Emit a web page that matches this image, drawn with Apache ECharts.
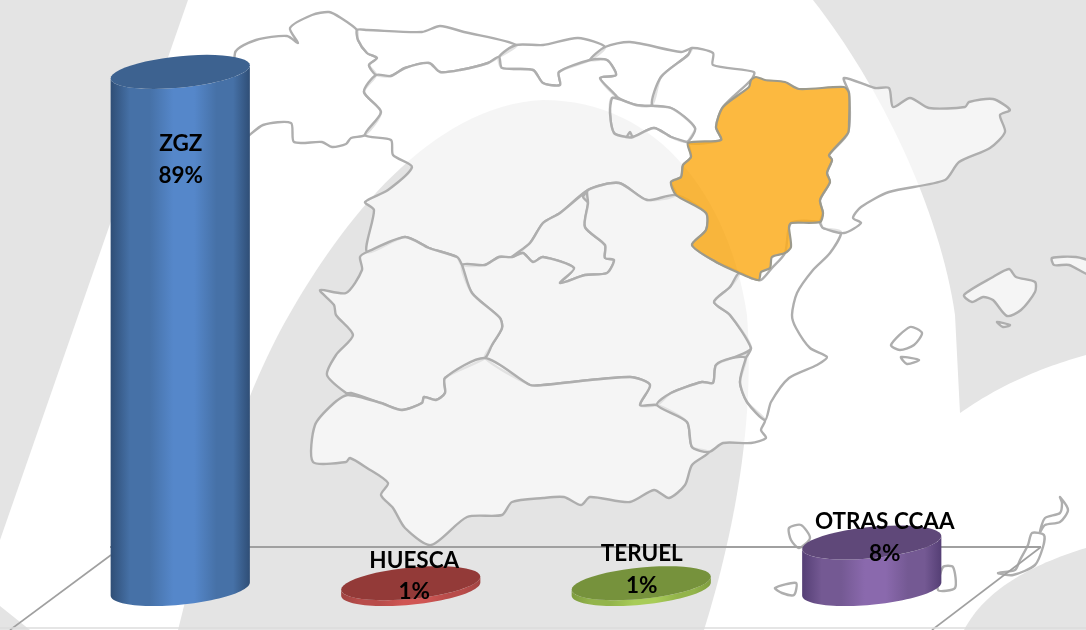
<!DOCTYPE html>
<html>
<head>
<meta charset="utf-8">
<title>Aragón</title>
<script src="https://cdn.jsdelivr.net/npm/echarts@6/dist/echarts.min.js"></script>
<style>
    html, body { margin: 0; padding: 0; background: #fff; overflow: hidden; }
    #chart { width: 1086px; height: 630px; filter: blur(0.7px); }
</style>
</head>
<body>
<div id="chart"></div>
<script>
const categories = ['ZGZ', 'HUESCA', 'TERUEL', 'OTRAS CCAA'];
const shares = [89, 1, 1, 8];

// colores: [tapa, borde oscuro, intermedio, centro claro]
const palette = [
    ['#3d6290', '#2f4e76', '#4671a7', '#5587ca'],
    ['#933a38', '#a04341', '#b84c4a', '#d05654'],
    ['#76923c', '#7e9c3f', '#93b44b', '#a8cc58'],
    ['#5f4879', '#553f75', '#745993', '#8a69ad']
];
// ajuste de las etiquetas respecto a la tapa: [dx, nombre, porcentaje]
const labelNudge = [
    [0.5, 72, 104],
    [3.5, -22, 9],
    [0.5, -29, 3],
    [13, -20.5, 11.5]
];

// fondo: comunidades autonomas (solo decoracion)
const regions = [
    [[235,53],[256,40],[287,36],[298,43],[290,28],[312,15],[329,12],[341,18],[357,30],[358,40],[367,53],[377,58],[369,65],[376,75],[364,92],[381,112],[365,135],[351,138],[346,144],[332,147],[322,142],[294,142],[291,123],[263,125],[240,140]],
    [[357,30],[367,30],[422,32],[440,26],[464,32],[516,45],[499,57],[488,63],[460,70],[440,72],[429,63],[405,68],[391,76],[376,75],[369,65],[377,58],[367,53],[358,40]],
    [[516,45],[543,45],[578,38],[605,47],[590,60],[559,72],[560,85],[543,83],[533,70],[502,68],[499,57]],
    [[605,47],[630,42],[681,52],[692,48],[688,55],[661,77],[652,105],[636,105],[617,97],[600,78],[616,75],[607,60],[590,60]],
    [[692,48],[713,53],[713,65],[754,72],[751,80],[723,107],[716,127],[721,140],[688,143],[695,128],[671,108],[652,105],[661,77],[688,55]],
    [[612,98],[636,105],[671,108],[695,128],[687,142],[671,137],[654,128],[633,137],[630,132],[626,137],[614,133],[610,113]],
    [[376,75],[391,76],[405,68],[429,63],[440,72],[460,70],[488,63],[499,57],[502,68],[533,70],[543,83],[560,85],[559,72],[590,60],[607,60],[616,75],[600,78],[617,97],[612,98],[610,113],[614,133],[626,137],[633,137],[654,128],[671,137],[687,142],[688,143],[691,157],[683,165],[681,177],[671,182],[676,195],[647,200],[619,183],[588,190],[560,213],[543,223],[530,243],[512,257],[499,257],[485,265],[462,265],[457,257],[429,248],[405,237],[367,252],[374,210],[365,202],[388,190],[412,167],[393,155],[391,140],[365,135],[381,112],[364,92]],
    [[588,190],[583,197],[588,203],[585,227],[605,245],[605,258],[614,260],[607,273],[585,275],[560,283],[574,268],[543,257],[533,262],[523,253],[512,257],[530,243],[543,223],[560,213]],
    [[462,265],[485,265],[499,257],[512,257],[523,253],[533,262],[543,257],[574,268],[560,283],[585,275],[607,273],[614,260],[605,258],[605,245],[585,227],[588,203],[588,190],[619,183],[647,200],[676,195],[706,213],[706,230],[692,245],[716,262],[739,273],[730,287],[714,302],[730,315],[751,348],[732,358],[716,365],[713,383],[702,382],[671,393],[657,405],[640,405],[650,385],[630,377],[543,385],[530,385],[485,358],[492,345],[502,328],[500,318],[472,293]],
    [[367,252],[405,237],[429,248],[457,257],[462,265],[472,293],[500,318],[502,328],[492,345],[485,358],[445,378],[445,393],[436,400],[424,397],[422,403],[402,410],[381,403],[351,393],[346,393],[327,375],[336,355],[353,335],[336,315],[334,305],[320,290],[346,293],[362,270],[360,257]],
    [[348,395],[381,403],[402,410],[422,403],[424,397],[436,400],[445,393],[445,378],[485,358],[530,385],[543,385],[630,377],[650,385],[640,405],[657,405],[687,422],[692,447],[709,452],[692,465],[685,485],[669,498],[654,490],[630,502],[590,497],[581,505],[564,497],[543,498],[512,502],[502,515],[467,517],[431,545],[405,528],[393,508],[381,495],[388,483],[367,468],[350,458],[346,462],[313,462],[315,425],[334,403]],
    [[657,405],[671,393],[702,382],[713,383],[716,365],[732,358],[746,358],[740,382],[747,402],[765,420],[761,430],[766,438],[751,443],[723,443],[709,452],[692,447],[687,422]],
    [[739,273],[751,278],[761,280],[772,268],[785,253],[791,223],[820,222],[823,228],[841,232],[830,253],[813,270],[797,293],[792,315],[796,328],[810,348],[827,357],[817,365],[789,378],[771,402],[765,420],[747,402],[740,382],[746,358],[751,348],[730,315],[714,302],[730,287]],
    [[844,78],[875,88],[889,88],[893,107],[910,98],[929,108],[965,107],[969,102],[993,99],[1010,110],[1000,115],[1005,132],[990,148],[959,162],[945,180],[889,192],[861,207],[853,218],[861,223],[844,233],[823,228],[820,222],[823,213],[820,200],[830,182],[827,173],[832,160],[829,155],[848,133],[849,93]],
    [[964,295],[993,277],[1009,269],[1016,277],[1035,282],[1035,292],[1021,310],[1007,316],[993,300],[983,297],[972,302]],
    [[1052,258],[1076,257],[1090,262],[1090,275],[1069,265],[1054,265]],
    [[891,345],[910,327],[922,333],[914,345],[900,350]],
    [[901,357],[919,360],[907,364]],
    [[997,322],[1010,325],[1003,327]],
    [[1060,497],[1068,510],[1060,522],[1045,525],[1040,532],[1045,518],[1060,513],[1062,503]],
    [[1032,533],[1044,535],[1043,547],[1035,565],[1013,575],[998,573],[1015,570],[1020,560],[1028,545]],
    [[943,567],[953,567],[955,588],[938,590]],
    [[789,528],[801,525],[810,538],[799,548],[791,540]],
    [[775,588],[796,583],[794,595],[782,593]]
];
const aragon = [[751,80],[756,77],[765,80],[785,82],[799,89],[844,87],[849,93],[849,123],[848,133],[829,155],[832,160],[827,173],[830,182],[820,200],[823,213],[820,222],[791,223],[789,227],[791,247],[785,253],[772,257],[770,268],[761,272],[759,280],[751,278],[739,273],[716,262],[692,245],[706,230],[706,213],[676,195],[671,182],[681,177],[683,165],[691,157],[688,143],[721,140],[716,127],[723,107],[749,87]];

// trozos de bezier para las curvas del fondo
function curve(p0, c1, c2, p1) {
    const pts = [];
    for (let i = 0; i <= 32; i++) {
        const t = i / 32, u = 1 - t;
        pts.push([
            u * u * u * p0[0] + 3 * u * u * t * c1[0] + 3 * u * t * t * c2[0] + t * t * t * p1[0],
            u * u * u * p0[1] + 3 * u * u * t * c1[1] + 3 * u * t * t * c2[1] + t * t * t * p1[1]
        ]);
    }
    return pts;
}
const swooshes = [
    [[188,0],[0,540],[0,0]],
    [[0,606],[30,630],[0,630]],
    curve([178,630],[205,520],[240,400],[289,315])
        .concat(curve([289,315],[340,225],[430,105],[543,100]))
        .concat(curve([543,100],[660,100],[730,200],[747,315]))
        .concat(curve([747,315],[755,420],[735,530],[704,630])),
    curve([813,0],[880,85],[940,210],[955,315])
        .concat(curve([960,413],[1000,385],[1040,368],[1086,355]))
        .concat([[1086,0]]),
    curve([964,630],[985,590],[1030,565],[1086,548]).concat([[1086,630]])
];
const floorLines = [
    [[110,547],[1041,547]],
    [[111,555],[10,630]],
    [[1041,547],[932,630]],
    [[0,628],[1086,628]]
];

function makeBackground() {
    const items = [];
    swooshes.forEach(pts => {
        items.push({ type: 'polygon', z: 1, shape: { points: pts }, style: { fill: '#e4e4e4' } });
    });
    regions.forEach(pts => {
        items.push({
            type: 'polygon', z: 2, shape: { points: pts, smooth: 0.25 },
            style: { fill: 'rgba(255,255,255,0.64)', stroke: '#aeaeae', lineWidth: 2.4, lineJoin: 'round' }
        });
    });
    items.push({
        type: 'polygon', z: 3, shape: { points: aragon, smooth: 0.25 },
        style: { fill: 'rgba(252,173,30,0.85)', stroke: '#9c9a8c', lineWidth: 2.2, lineJoin: 'round' }
    });
    floorLines.forEach((l, i) => {
        items.push({
            type: 'line', z: 4,
            shape: { x1: l[0][0], y1: l[0][1], x2: l[1][0], y2: l[1][1] },
            style: { stroke: i === 3 ? '#dcdcdc' : '#a0a0a0', lineWidth: i === 0 ? 2.2 : 1.6 }
        });
    });
    return items;
}

// elipse inclinada: el lado izquierdo queda mas bajo que el derecho
function ellipsePoints(cx, cy, rx, ry, skew, from, to) {
    const pts = [];
    for (let i = 0; i <= 48; i++) {
        const t = from + (to - from) * i / 48;
        const dx = rx * Math.cos(t);
        pts.push([cx + dx, cy + ry * Math.sin(t) - skew * dx]);
    }
    return pts;
}

function renderCylinder(params, api) {
    const i = api.value(0);
    const value = api.value(1);
    const base = api.coord([i, 0]);
    const top = api.coord([i, value]);
    const rx = api.size([1, 0])[0] * 0.302;
    const ry = rx * 0.226;
    const skew = 0.094;
    const colors = palette[i];
    const nudge = labelNudge[i];
    // cuerpo: mitad inferior de la base + mitad inferior de la tapa al reves
    const body = ellipsePoints(base[0], base[1], rx, ry, skew, 0, Math.PI)
        .concat(ellipsePoints(top[0], top[1], rx, ry, skew, Math.PI, 0));
    const font = 'bold 22.5px Lato, "Liberation Sans", sans-serif';
    return {
        type: 'group',
        children: [
            {
                type: 'polygon',
                shape: { points: body },
                style: {
                    fill: new echarts.graphic.LinearGradient(0, 0, 1, 0, [
                        { offset: 0, color: colors[1] },
                        { offset: 0.14, color: colors[2] },
                        { offset: 0.28, color: colors[2] },
                        { offset: 0.45, color: colors[3] },
                        { offset: 0.6, color: colors[3] },
                        { offset: 0.76, color: colors[2] },
                        { offset: 0.88, color: colors[2] },
                        { offset: 1, color: colors[1] }
                    ])
                }
            },
            {
                type: 'polygon',
                shape: { points: ellipsePoints(top[0], top[1], rx, ry, skew, 0, Math.PI * 2) },
                style: { fill: colors[0] }
            },
            {
                type: 'text',
                style: {
                    text: categories[i], x: top[0] + nudge[0], y: top[1] + nudge[1],
                    fill: '#000', font: font, align: 'center', verticalAlign: 'middle'
                }
            },
            {
                type: 'text',
                style: {
                    text: value + '%', x: top[0] + nudge[0], y: top[1] + nudge[2],
                    fill: '#000', font: font, align: 'center', verticalAlign: 'middle'
                }
            }
        ]
    };
}

const chart = echarts.init(document.getElementById('chart'));
chart.setOption({
    animation: false,
    backgroundColor: '#fff',
    graphic: { elements: makeBackground() },
    grid: { left: 65, right: 99, top: 8, bottom: 41 },
    xAxis: { type: 'category', data: categories, show: false },
    yAxis: { type: 'value', min: 0, max: 100, show: false },
    series: [{
        type: 'custom',
        z: 10,
        renderItem: renderCylinder,
        data: shares.map((v, i) => [i, v])
    }]
});
</script>
</body>
</html>
